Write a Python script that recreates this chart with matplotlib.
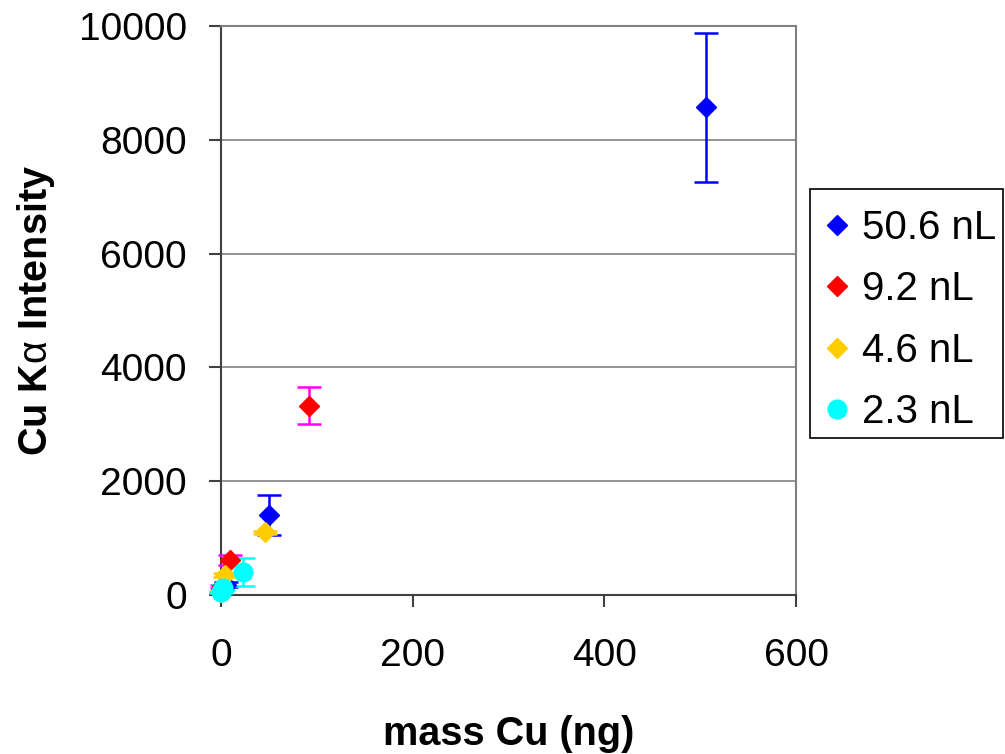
import matplotlib
matplotlib.use("Agg")
import matplotlib.pyplot as plt
from matplotlib.lines import Line2D
from matplotlib.patches import Rectangle

plt.rcParams['font.family'] = ['Liberation Sans', 'DejaVu Sans']
plt.rcParams['mathtext.fontset'] = 'custom'
plt.rcParams['mathtext.rm'] = 'Liberation Sans'
plt.rcParams['mathtext.it'] = 'Liberation Sans:italic'

labels = ["50.6 nL", "9.2 nL", "4.6 nL", "2.3 nL"]
x_blue = [506, 50.6, 5.06]
y_blue = [8570, 1400, 180]
e_blue = [1310, 350, 40]
x_red = [92, 9.2, 0.92]
y_red = [3330, 610, 150]
e_red = [330, 90, 20]
x_yel = [46, 4.6, 0.46]
y_yel = [1100, 350, 60]
e_yel = [20, 40, 5]
x_cyan = [23, 2.3, 0.23]
y_cyan = [410, 130, 50]
e_cyan = [245, 40, 10]

xticks = [0, 200, 400, 600]
yticks = [0, 2000, 4000, 6000, 8000, 10000]

W, H = 1005, 754
fig = plt.figure(figsize=(W / 100, H / 100), dpi=100)
ax = fig.add_axes([221/W, 1-595/H, (796-221)/W, (595-26)/H])

series = [
    (x_blue, y_blue, e_blue, 'D', '#0000FF', '#0000FF', 10.6),
    (x_red, y_red, e_red, 'D', '#FF0000', '#FF00FF', 10.6),
    (x_yel, y_yel, e_yel, 'D', '#FFCC00', '#FFCC00', 10.6),
    (x_cyan, y_cyan, e_cyan, 'o', '#00FFFF', '#00FFFF', 13.5),
]
handles = []
for (xs, ys, es, m, c, ec, ms), lab in zip(series, labels):
    ax.errorbar(xs, ys, yerr=es, fmt=m, color=c, ecolor=ec, mec=c, mfc=c,
                ms=ms, elinewidth=1.8, capsize=8.5, capthick=1.8,
                clip_on=False, zorder=3)
    handles.append(Line2D([], [], linestyle='none', marker=m, color=c,
                          mfc=c, mec=c, ms=ms, label=lab))

ax.set_xlim(0, 600)
ax.set_ylim(0, 10000)
ax.set_xticks(xticks)
ax.set_yticks(yticks)
ax.yaxis.grid(True, color='#808080', linewidth=1.2)
ax.set_axisbelow(True)
for k, s in ax.spines.items():
    s.set_linewidth(1.5)
    s.set_color('#404040' if k in ('left', 'bottom') else '#808080')
ax.tick_params(axis='both', labelsize=28, direction='out', length=8.6,
               width=1.5, color='#404040')
ax.tick_params(axis='y', pad=16)
ax.tick_params(axis='x', pad=22)
ax.set_xlabel("mass Cu (ng)", fontsize=28.5, fontweight='bold', labelpad=30)
ax.set_ylabel(r"Cu K$\mathrm{\alpha}$ Intensity", fontsize=28.5,
              fontweight='bold')
ax.yaxis.set_label_coords((57 - 221) / 575, 0.5)

leg = fig.legend(handles=handles, loc='upper left',
                 bbox_to_anchor=(825/W, 1-209/H),
                 bbox_transform=fig.transFigure, fontsize=29, frameon=False,
                 handlelength=0.6, handletextpad=0.32, borderpad=0,
                 labelspacing=0.58, borderaxespad=0)
fig.add_artist(Rectangle((810/W, 1-438/H), (1003-810)/W, (438-189)/H,
                         transform=fig.transFigure, fill=False,
                         edgecolor='black', linewidth=1.2))

fig.savefig("out.png", dpi=100)
